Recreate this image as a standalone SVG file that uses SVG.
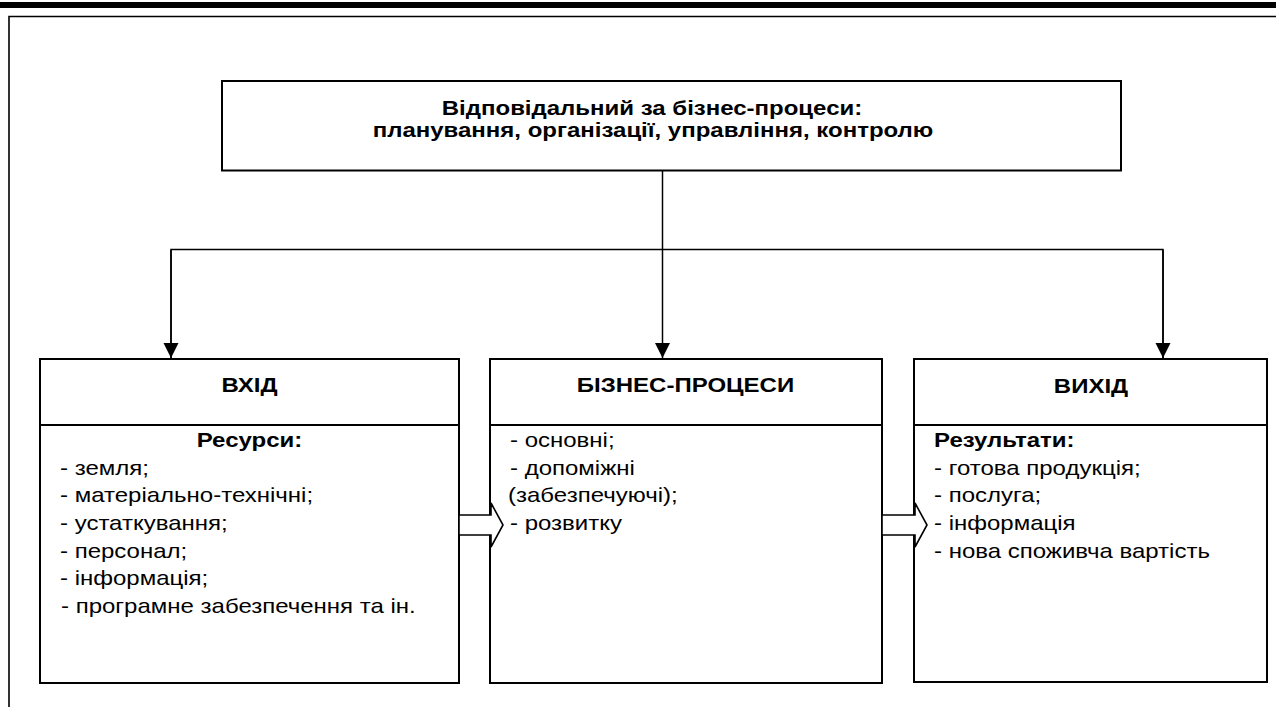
<svg xmlns="http://www.w3.org/2000/svg" width="1276" height="707" viewBox="0 0 1276 707">
  <defs>
    <marker id="arr" markerWidth="15" markerHeight="16" refX="15" refY="7.5" orient="auto" markerUnits="userSpaceOnUse">
      <path d="M0,0 L15,7.5 L0,15 Z" fill="#000"/>
    </marker>
    <style>
      .box { fill: #fff; stroke: #000; stroke-width: 2; }
      .div { stroke: #000; stroke-width: 2; fill: none; }
      .con { stroke: #000; stroke-width: 1.5; fill: none; }
      .blk { fill: #fff; stroke: #000; stroke-width: 1.6; stroke-linejoin: miter; }
      text { font-family: "Liberation Sans", Arial, sans-serif; fill: #000; font-size: 21px; }
      .tp { font-size: 20px; }
      .b { font-weight: bold; }
      .c { text-anchor: middle; }
    </style>
  </defs>
  <rect width="1276" height="707" fill="#fff"/>
  <g id="frame">
    <rect x="0" y="2" width="1276" height="6" fill="#000"/>
    <path d="M9,707 V16.5 H1276" fill="none" stroke="#000" stroke-width="1.6"/>
  </g>
  <g id="connectors">
    <path class="con" d="M662.5,171 V358" marker-end="url(#arr)"/>
    <path class="con" d="M171,358 V249.5 H1163 V358"/>
    <path class="con" d="M171,250 V358" marker-end="url(#arr)"/>
    <path class="con" d="M1163,250 V358" marker-end="url(#arr)"/>
  </g>
  <g id="top">
    <rect class="box" x="222" y="81" width="899" height="89.5"/>
    <text class="tp b c" transform="translate(652,115) scale(1.2 1)">Відповідальний за бізнес-процеси:</text>
    <text class="tp b c" transform="translate(653,137) scale(1.2 1)">планування, організації, управління, контролю</text>
  </g>
  <g id="input">
    <rect class="box" x="40" y="359" width="419" height="324"/>
    <line class="div" x1="40" y1="425" x2="459" y2="425"/>
    <text class="b c" transform="translate(249.5,392) scale(1.143 1)">ВХІД</text>
    <text class="b c" transform="translate(249.5,447) scale(1.143 1)">Ресурси:</text>
    <text transform="translate(60,474.7) scale(1.143 1)">- земля;</text>
    <text transform="translate(60,502.4) scale(1.143 1)">- матеріально-технічні;</text>
    <text transform="translate(60,530) scale(1.143 1)">- устаткування;</text>
    <text transform="translate(60,557.7) scale(1.143 1)">- персонал;</text>
    <text transform="translate(60,585.4) scale(1.143 1)">- інформація;</text>
    <text transform="translate(61,613) scale(1.143 1)">- програмне забезпечення та ін.</text>
  </g>
  <g id="process">
    <rect class="box" x="490" y="359" width="392" height="324"/>
    <line class="div" x1="490" y1="425" x2="882" y2="425"/>
    <text class="b c" transform="translate(685.5,392) scale(1.143 1)">БІЗНЕС-ПРОЦЕСИ</text>
    <text transform="translate(510,447) scale(1.143 1)">- основні;</text>
    <text transform="translate(510,474.7) scale(1.143 1)">- допоміжні</text>
    <text transform="translate(508,502.4) scale(1.143 1)">(забезпечуючі);</text>
    <text transform="translate(510,530) scale(1.143 1)">- розвитку</text>
  </g>
  <g id="output">
    <rect class="box" x="914" y="359" width="353" height="323"/>
    <line class="div" x1="914" y1="425" x2="1267" y2="425"/>
    <text class="b c" transform="translate(1091,393) scale(1.143 1)">ВИХІД</text>
    <text class="b" transform="translate(934,447) scale(1.143 1)">Результати:</text>
    <text transform="translate(934,474.7) scale(1.143 1)">- готова продукція;</text>
    <text transform="translate(934,502.4) scale(1.143 1)">- послуга;</text>
    <text transform="translate(934,530) scale(1.143 1)">- інформація</text>
    <text transform="translate(934,557.7) scale(1.143 1)">- нова споживча вартість</text>
  </g>
  <g id="flow-arrows">
    <polygon class="blk" points="459,515 491,515 491,503 503,525 491,547 491,535 459,535"/>
    <polygon class="blk" points="882,515 915,515 915,503 927,525 915,547 915,535 882,535"/>
  </g>
</svg>
